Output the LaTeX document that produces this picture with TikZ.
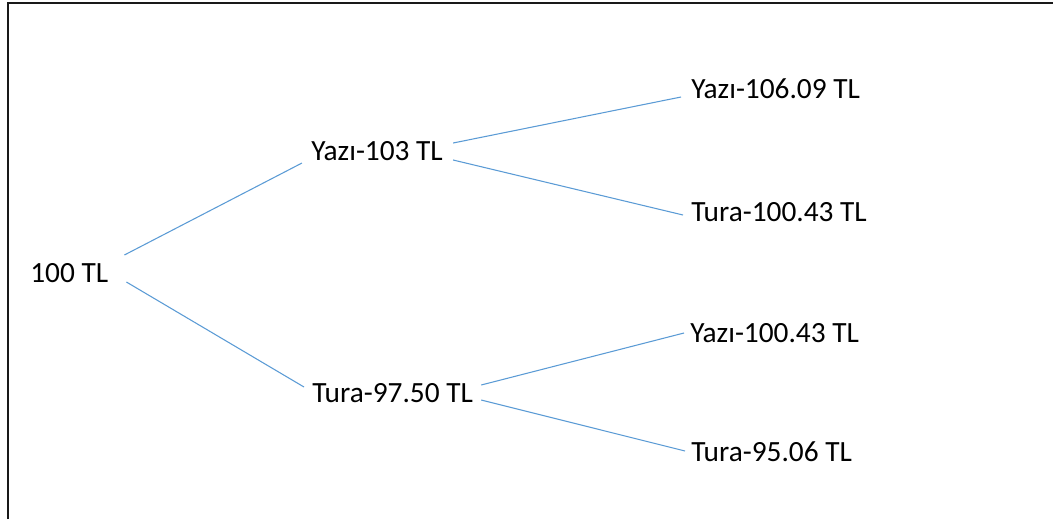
\documentclass[tikz,border=0pt]{standalone}
\usepackage{fontspec}
\setmainfont{Carlito}
\usetikzlibrary{calc}
\definecolor{edgeblue}{HTML}{5B9BD5}
\tikzset{
  lbl/.style={inner sep=0pt, anchor=base west, font=\fontsize{22}{26}\selectfont},
  branch/.style={draw=edgeblue, line width=0.8pt}
}
\begin{document}
\begin{tikzpicture}[x=0.75pt, y=-0.75pt]
		\useasboundingbox (0, 0) rectangle (1053, 519);
		\draw[line width=1.3pt, black!90] (8, 519) -- (8, 3) -- (1053, 3);
		% values
		\node[lbl] (root) at (30, 282) {100 TL};
		\node[lbl] (yazi) at (311, 160) {Yazı-103 TL};
		\node[lbl] (tura) at (312, 402) {Tura-97.50 TL};
		\node[lbl] (yy) at (691, 98) {Yazı-106.09 TL};
		\node[lbl] (yt) at (691, 221) {Tura-100.43 TL};
		\node[lbl] (ty) at (690, 342) {Yazı-100.43 TL};
		\node[lbl] (tt) at (691, 461) {Tura-95.06 TL};
		%%%%%%%%%
		\draw[branch] ($(root.base east)+(16, -27)$) -- ($(yazi.base west)+(-9, 3)$);
		\draw[branch] ($(root.base east)+(18, 0)$) -- ($(tura.base west)+(-8, -15)$);
		\draw[branch] ($(yazi.base east)+(10, -17)$) -- ($(yy.base west)+(-10, -1)$);
		\draw[branch] ($(yazi.base east)+(10, 0)$) -- ($(yt.base west)+(-8, -6)$);
		\draw[branch] ($(tura.base east)+(8, -17)$) -- ($(ty.base west)+(-6, -9)$);
		\draw[branch] ($(tura.base east)+(8, -2)$) -- ($(tt.base west)+(-6, -10)$);
\end{tikzpicture}
\end{document}
